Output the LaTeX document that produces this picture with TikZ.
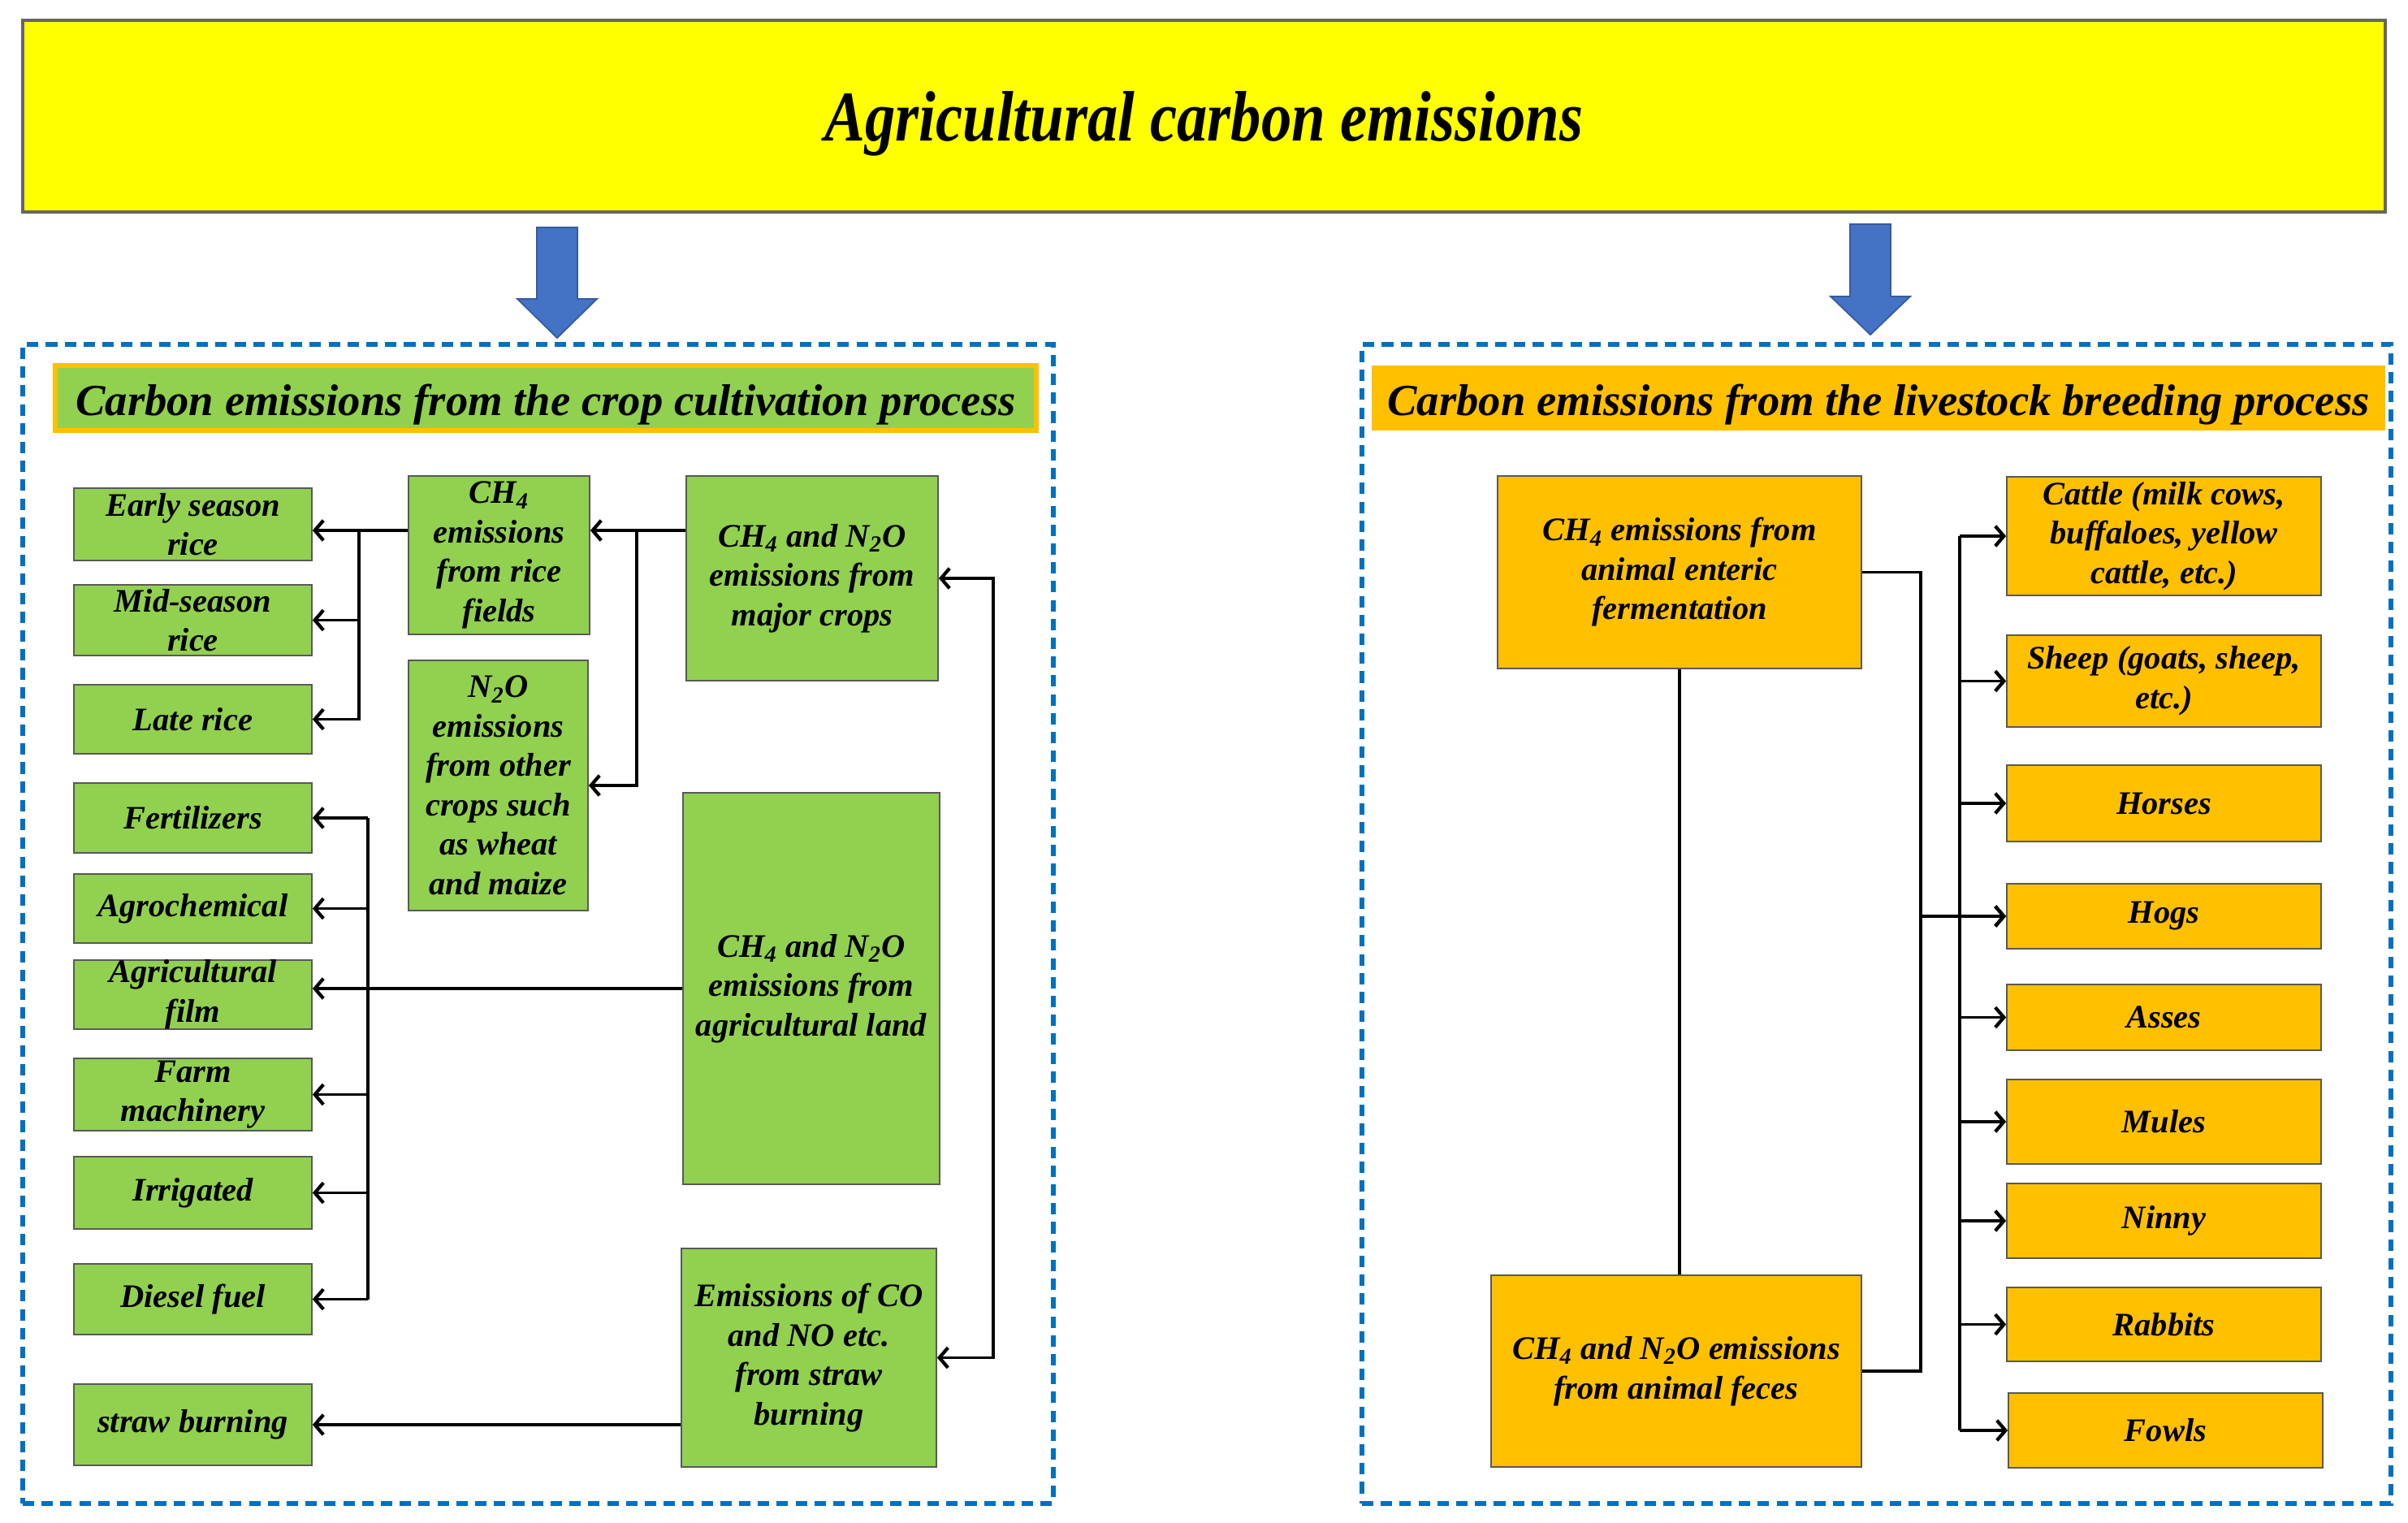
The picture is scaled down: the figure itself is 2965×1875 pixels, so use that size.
\documentclass[tikz,border=0pt]{standalone}
\usepackage{fontspec}
\setmainfont{Liberation Serif}
\newfontfamily\titlefont[FakeStretch=0.85]{Liberation Serif}
\usetikzlibrary{arrows.meta,calc}
\definecolor{grn}{RGB}{146,208,80}
\definecolor{org}{RGB}{255,192,0}
\definecolor{ylw}{RGB}{255,255,0}
\definecolor{dblue}{RGB}{0,112,192}
\definecolor{arrblue}{RGB}{68,114,196}
\newcommand\mkbox[7]{\node[#6, minimum width={(#4-#2)*0.01cm}, minimum height={(#5-#3)*0.01cm}] (#1) at ({(#2+#4)/2},{(#3+#5)/2}) {#7};}
\newcommand\sub[1]{\textsubscript{#1}}
\tikzset{
  bx/.style={draw=black!65, line width=0.5pt, inner sep=0pt, align=center,
     font=\fontsize{11.5}{13.8}\selectfont\bfseries\itshape},
  gbox/.style={bx, fill=grn},
  obox/.style={bx, fill=org},
  panel/.style={draw=dblue, line width=1.5pt, dash pattern=on 4pt off 2.6pt, inner sep=0pt},
  ln/.style={line width=1.1pt, black},
  conn/.style={ln, -{Straight Barb[length=3pt,width=7pt,line width=1.2pt]}},
  both/.style={ln, {Straight Barb[length=3pt,width=7pt,line width=1.2pt]}-{Straight Barb[length=3pt,width=7pt,line width=1.2pt]}},
  bigarrow/.style={fill=arrblue, draw=arrblue!80!black, line width=0.5pt},
  headtext/.style={inner sep=0pt, text height=12pt, text depth=0pt, font=\fontsize{15.55}{19}\selectfont\bfseries\itshape}
}
\begin{document}
\begin{tikzpicture}[x=0.01cm,y=-0.01cm]
\useasboundingbox (0,0) rectangle (2965,1875);
% title
\mkbox{title}{28}{25}{2937}{261}{draw=black!60, line width=0.9pt, fill=ylw, inner sep=0pt, text height=17.6pt, text depth=0pt, font=\titlefont\fontsize{25}{30}\selectfont\bfseries\itshape}{Agricultural carbon emissions}
% big arrows
\fill[bigarrow] (661,280) -- (711,280) -- (711,368) -- (735,368) -- (686,416) -- (637,368) -- (661,368) -- cycle;
\fill[bigarrow] (2278,276) -- (2328,276) -- (2328,365) -- (2352,365) -- (2303,412) -- (2254,365) -- (2278,365) -- cycle;
% panels
\mkbox{lpanel}{28}{424}{1297}{1851}{panel}{}
\mkbox{rpanel}{1677}{424}{2944}{1851}{panel}{}
% headers
\mkbox{lhead}{68}{450}{1276}{530}{headtext, draw=org, line width=1.5pt, fill=grn}{Carbon emissions from the crop cultivation process}
\mkbox{rhead}{1689}{450}{2937}{530}{headtext, fill=org}{Carbon emissions from the livestock breeding process}
% left column
\mkbox{early}{91}{601}{384}{690}{gbox}{Early season\\rice}
\mkbox{mid}{91}{720}{384}{807}{gbox}{Mid-season\\rice}
\mkbox{late}{91}{843}{384}{928}{gbox}{Late rice}
\mkbox{fert}{91}{964}{384}{1050}{gbox}{Fertilizers}
\mkbox{agro}{91}{1076}{384}{1161}{gbox}{Agrochemical}
\mkbox{film}{91}{1182}{384}{1267}{gbox}{Agricultural\\film}
\mkbox{farm}{91}{1303}{384}{1392}{gbox}{Farm\\machinery}
\mkbox{irr}{91}{1424}{384}{1513}{gbox}{Irrigated}
\mkbox{diesel}{91}{1556}{384}{1643}{gbox}{Diesel fuel}
\mkbox{straw}{91}{1704}{384}{1804}{gbox}{straw burning}
% middle column
\mkbox{rice}{503}{586}{726}{781}{gbox}{CH\sub{4}\\emissions\\from rice\\fields}
\mkbox{other}{503}{813}{724}{1121}{gbox}{N\sub{2}O\\emissions\\from other\\crops such\\as wheat\\and maize}
% right column
\mkbox{major}{845}{586}{1155}{838}{gbox}{CH\sub{4} and N\sub{2}O\\emissions from\\major crops}
\mkbox{land}{841}{976}{1157}{1458}{gbox}{CH\sub{4} and N\sub{2}O\\emissions from\\agricultural land}
\mkbox{co}{839}{1537}{1153}{1806}{gbox}{Emissions of CO\\and NO etc.\\from straw\\burning}
% livestock
\mkbox{enteric}{1844}{586}{2292}{823}{obox}{CH\sub{4} emissions from\\animal enteric\\fermentation}
\mkbox{feces}{1836}{1570}{2292}{1806}{obox}{CH\sub{4} and N\sub{2}O emissions\\from animal feces}
\mkbox{cattle}{2471}{587}{2858}{733}{obox}{Cattle (milk cows,\\buffaloes, yellow\\cattle, etc.)}
\mkbox{sheep}{2471}{782}{2858}{895}{obox}{Sheep (goats, sheep,\\etc.)}
\mkbox{horses}{2471}{942}{2858}{1036}{obox}{Horses}
\mkbox{hogs}{2471}{1088}{2858}{1168}{obox}{Hogs}
\mkbox{asses}{2471}{1212}{2858}{1293}{obox}{Asses}
\mkbox{mules}{2471}{1329}{2858}{1433}{obox}{Mules}
\mkbox{ninny}{2471}{1457}{2858}{1549}{obox}{Ninny}
\mkbox{rabbits}{2471}{1585}{2858}{1676}{obox}{Rabbits}
\mkbox{fowls}{2473}{1715}{2860}{1807}{obox}{Fowls}
% left connectors
\coordinate (jA) at (442,653);
\coordinate (jM) at (784,653);
\coordinate (jB) at (453,1007);
\draw[conn] (rice.west |- jA) -- (early.east |- jA);
\draw[conn] (jA) |- (mid.east);
\draw[conn] (jA) |- (late.east);
\draw[conn] (major.west |- jM) -- (rice.east |- jM);
\draw[conn] (jM) |- (other.east);
\draw[both] (major.east) -- ++(67,0) |- (co.east);
\draw[conn] (land.west) -- (land.west -| film.east);
\draw[ln] (jB |- fert.east) -- (jB |- diesel.east);
\foreach \n in {fert,agro,farm,irr,diesel}{\draw[conn] (jB |- \n.east) -- (\n.east);}
\draw[conn] (co.west |- straw.east) -- (straw.east);
% right connectors
\coordinate (jR1) at (2365,700);
\coordinate (jR2) at (2413,700);
\draw[ln] (enteric.south) -- (enteric.south |- feces.north);
\draw[ln] (enteric.east) -- (enteric.east -| jR1) -- (feces.east -| jR1) -- (feces.east);
\draw[ln] (jR2 |- cattle.west) -- (jR2 |- fowls.west);
\foreach \n in {cattle,sheep,horses,hogs,asses,mules,ninny,rabbits,fowls}{\draw[conn] (jR2 |- \n.west) -- (\n.west);}
\draw[conn] (jR1 |- hogs.west) -- (hogs.west);
\end{tikzpicture}
\end{document}
